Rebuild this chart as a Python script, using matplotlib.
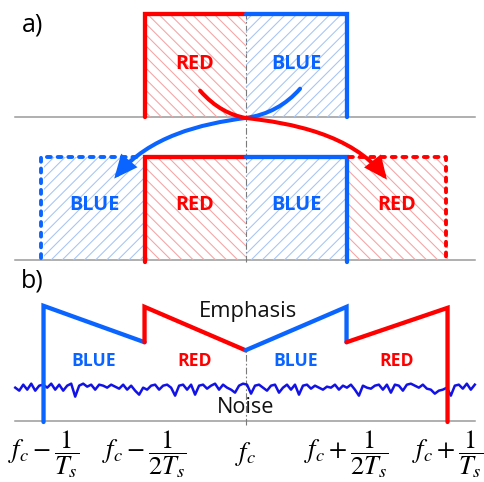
import matplotlib
matplotlib.use("Agg")
import matplotlib.pyplot as plt
import numpy as np
from matplotlib.patches import Rectangle, FancyArrowPatch
from matplotlib.path import Path

plt.rcParams["mathtext.fontset"] = "stix"
plt.rcParams["hatch.linewidth"] = 0.75

# ---------------------------------------------------------------------------
# Data (frequency in units of 1/(2Ts) relative to fc)
# ---------------------------------------------------------------------------
RED = "#FF0000"
BLUE = "#0A64FF"
RED_HATCH = "#F5A3A3"
BLUE_HATCH = "#A6C4F5"

band_edges = [-2, -1, 0, 1, 2]
band_names = ["BLUE", "RED", "BLUE", "RED"]
tick_pos = [-2, -1, 0, 1, 2]
tick_labels = [
    r"$f_c-\dfrac{1}{T_s}$",
    r"$f_c-\dfrac{1}{2T_s}$",
    r"$f_c$",
    r"$f_c+\dfrac{1}{2T_s}$",
    r"$f_c+\dfrac{1}{T_s}$",
]

# emphasis curve: level at start / end of each band
emph_start = [1.14, 1.13, 0.70, 0.78]
emph_end = [0.78, 0.70, 1.13, 1.12]

noise_level = 0.33
noise_dev = np.array([
    0, -3, 3, -2, 4, -3, 2, 3, 0, 4, -2, 3, -3, 2, 4, -9, 2, 4, 1, 3,
    -2, 3, 2, 0, 3, 1, -1, 3, -2, 2, -3, -7, 0, -2, 2, 3, -2, 2, 3, 0,
    -8, 2, 3, -2, 3, -7, 2, 3, -1, 2, 4, -2, 3, 0, -2, -5, 2, 4, 3, -6,
    2, 3, 0, -3, 2, 3, -5, 0, 3, -2, 3, -7, 2, 3, -1, 2, 0, -2, 1, 0,
    3, -2, 2, 0, 3, -2, -8, 2, 0, -1, 2, 3, -2, 3, -5, 3, 2, -3, 3, 4,
    2, 0, 3, -1, -2, -6, -3, -2, 0, -8, 2, 3, -1, 4, -2, 3,
]) / 101.0

base_b = 0.0
base_a_low = 1.594
base_a_top = 3.01
rect_h = 1.02
x_left, x_right = -2.28, 2.27

fig = plt.figure(figsize=(4.84, 4.82), dpi=100)
ax = fig.add_axes([0, 0, 1, 1])
ax.set_xlim(-2.431, 2.361)
ax.set_ylim(-0.604, 4.168)
ax.axis("off")

gray = "#9A9A9A"
for yb in [base_b, base_a_low, base_a_top]:
    ax.plot([x_left, x_right], [yb, yb], color=gray, lw=1.1, zorder=1)

# centre line
dash_kw = dict(color="#7A7A7A", lw=0.8, linestyle=(0, (6, 2, 1.5, 2)), zorder=1)
ax.plot([0, 0], [base_a_low - 0.02, base_a_top + rect_h], **dash_kw)
ax.plot([0, 0], [base_b - 0.04, emph_end[1]], **dash_kw)


def hatched(x0, x1, y0, name):
    col = RED_HATCH if name == "RED" else BLUE_HATCH
    hatch = "\\\\\\" if name == "RED" else "///"
    ax.add_patch(Rectangle((x0, y0), x1 - x0, rect_h, facecolor="none",
                           edgecolor=col, lw=0, hatch=hatch, zorder=2))


lw_main = 3.1
solid = dict(lw=lw_main, solid_capstyle="round", solid_joinstyle="miter", zorder=4)
dashed = dict(lw=2.8, linestyle=(0, (1.0, 1.75)), dash_capstyle="round", zorder=4)
lab_kw = dict(fontweight="bold", family="Open Sans", ha="center", va="center", zorder=5)

# ---- panel a, top: baseband spectrum
for i in (1, 2):
    hatched(band_edges[i], band_edges[i + 1], base_a_top, band_names[i])
ytop = base_a_top + rect_h
ax.plot([-1, -1, 0], [base_a_top, ytop, ytop], color=RED, **solid)
ax.plot([0, 1, 1], [ytop, ytop, base_a_top], color=BLUE, **solid)
for i in (1, 2):
    ax.text((band_edges[i] + band_edges[i + 1]) / 2, base_a_top + 0.525, band_names[i],
            color=RED if band_names[i] == "RED" else BLUE, fontsize=14.3, **lab_kw)

# ---- panel a, bottom: shifted copies
for i in range(4):
    hatched(band_edges[i], band_edges[i + 1], base_a_low, band_names[i])
ytop2 = base_a_low + rect_h
ax.plot([-1, -1, 0], [base_a_low - 0.015, ytop2, ytop2], color=RED, **solid)
ax.plot([0, 1, 1], [ytop2, ytop2, base_a_low - 0.015], color=BLUE, **solid)
ax.plot([-2.03, -2.03, -1.02], [base_a_low + 0.02, ytop2, ytop2], color=BLUE, **dashed)
ax.plot([1.02, 1.98, 1.98], [ytop2, ytop2, base_a_low + 0.02], color=RED, **dashed)
for i in range(4):
    ax.text((band_edges[i] + band_edges[i + 1]) / 2, base_a_low + 0.545, band_names[i],
            color=RED if band_names[i] == "RED" else BLUE, fontsize=14.3, **lab_kw)

# ---- arrows
C = Path.CURVE4
codes = [Path.MOVETO, C, C, C, C, C, C]
blue_path = Path([(0.54, 3.29), (0.40, 3.13), (0.22, 3.03), (0.0, 3.0),
                  (-0.45, 2.94), (-0.95, 2.82), (-1.30, 2.40)], codes)
red_path = Path([(-0.45, 3.27), (-0.30, 3.10), (-0.15, 3.03), (0.0, 3.0),
                 (0.45, 2.95), (1.05, 2.84), (1.40, 2.39)], codes)
for p, col, z in [(blue_path, BLUE, 6), (red_path, RED, 7)]:
    ax.add_patch(FancyArrowPatch(path=p, arrowstyle="-|>,head_length=0.6,head_width=0.27",
                                 mutation_scale=20, color=col, lw=2.9,
                                 capstyle="round", joinstyle="miter", zorder=z))

# ---- panel b: emphasis and noise
noise_x = np.linspace(x_left, x_right, len(noise_dev))
ax.plot(noise_x, noise_level + noise_dev, color="#1212E6", lw=1.8, zorder=3)

for i in range(4):
    x0, x1 = band_edges[i], band_edges[i + 1]
    col = RED if band_names[i] == "RED" else BLUE
    if i == 0:
        xs, ys = [x0, x0, x1], [base_b - 0.01, emph_start[i], emph_end[i]]
    elif i == 3:
        xs, ys = [x0, x1, x1], [emph_start[i], emph_end[i], base_b - 0.01]
    elif col == RED:
        xs, ys = [x0, x0, x1], [emph_end[i - 1], emph_start[i], emph_end[i]]
    else:
        xs, ys = [x0, x1, x1], [emph_start[i], emph_end[i], emph_start[i + 1]]
    ax.plot(xs, ys, color=col, **solid)
    ax.text((x0 + x1) / 2, 0.59, band_names[i], color=col, fontsize=12.6, **lab_kw)

ax.text(0.025, 1.08, "Emphasis", fontsize=15.8, family="Open Sans",
        ha="center", va="center", color="#111111", zorder=5)
ax.text(0.005, 0.13, "Noise", fontsize=15.6, family="Open Sans",
        ha="center", va="center", color="#111111", zorder=5)

ax.text(-2.104, 3.92, "a)", fontsize=18, family="Open Sans", ha="center", va="center")
ax.text(-2.114, 1.386, "b)", fontsize=18, family="Open Sans", ha="center", va="center")

for xp, lab in zip(tick_pos, tick_labels):
    ax.text(xp, -0.33, lab, fontsize=19, ha="center", va="center")

fig.savefig("out.png", dpi=100)
